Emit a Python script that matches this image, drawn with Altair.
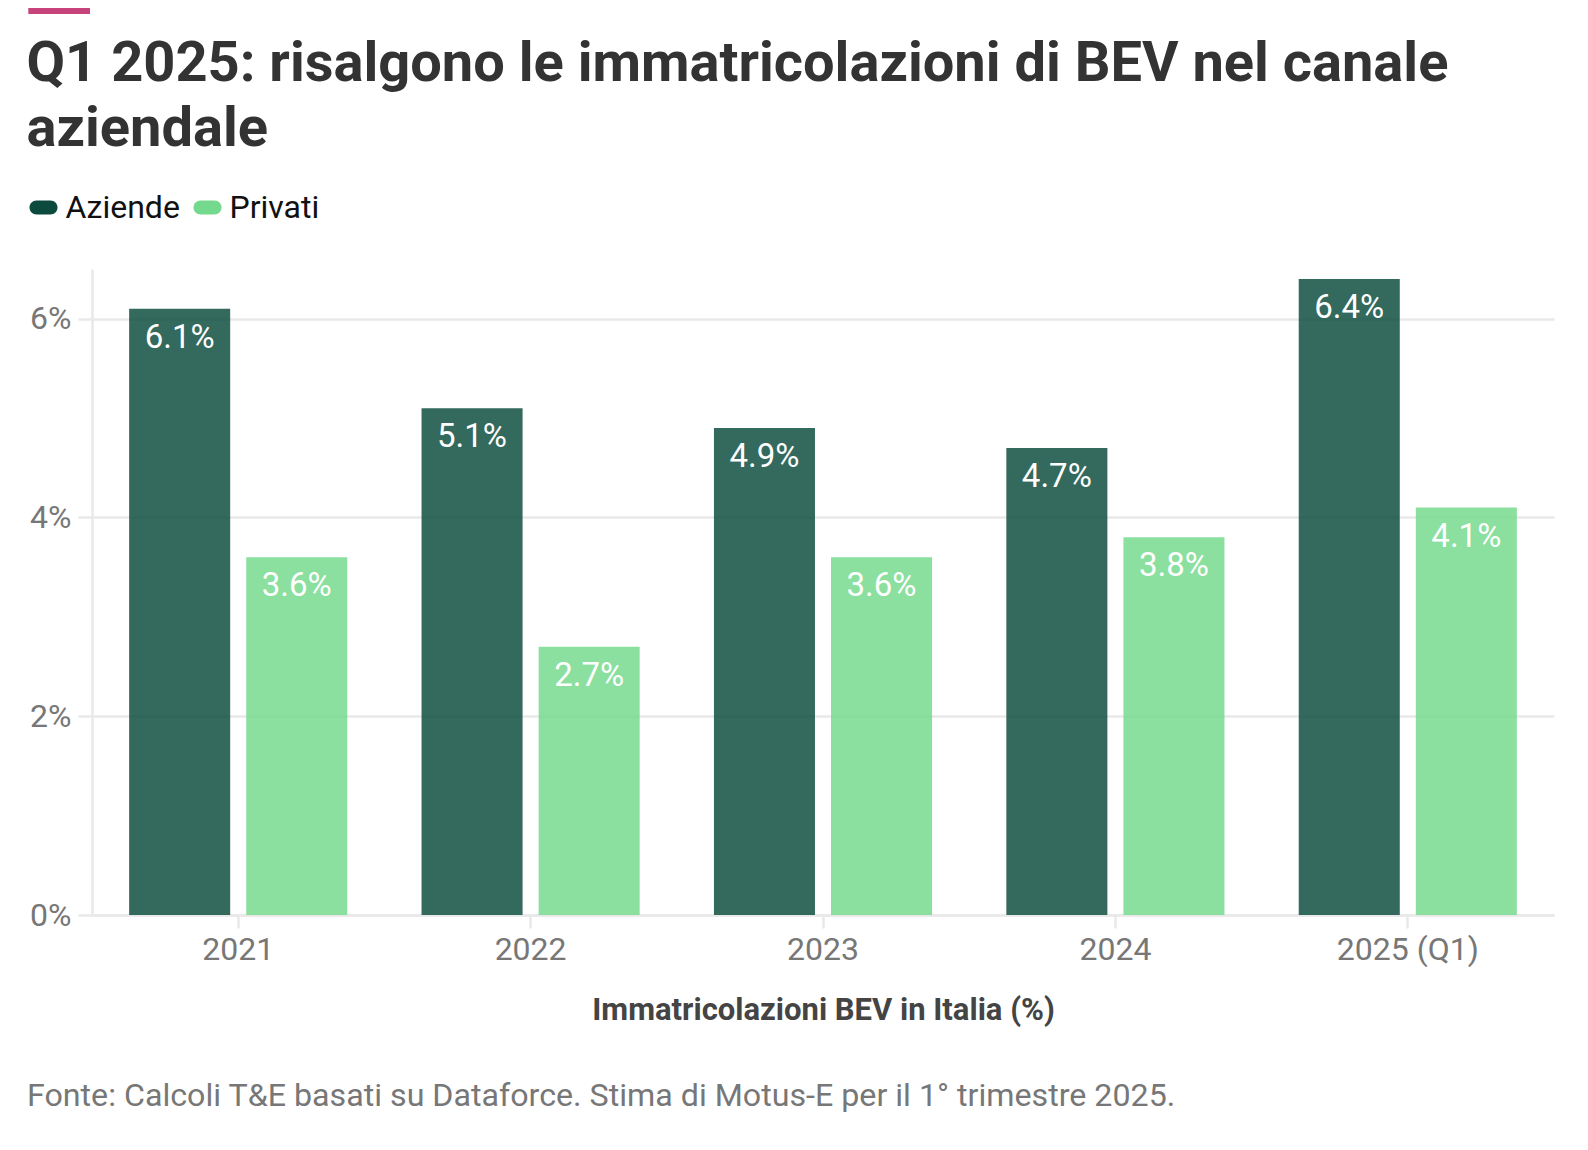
import altair as alt
import pandas as pd

# ---- data ----
years = ["2021", "2022", "2023", "2024", "2025 (Q1)"]
aziende = [6.1, 5.1, 4.9, 4.7, 6.4]
privati = [3.6, 2.7, 3.6, 3.8, 4.1]
series = ["Aziende", "Privati"]
colors = ["#0b4a3c", "#74d98c"]
y_ticks = [0, 0.02, 0.04, 0.06]
title_lines = ["Q1 2025: risalgono le immatricolazioni di BEV nel canale", "aziendale"]
x_title = "Immatricolazioni BEV in Italia (%)"
source = "Fonte: Calcoli T&E basati su Dataforce. Stima di Motus-E per il 1° trimestre 2025."

rows = []
for i, yr in enumerate(years):
    rows.append({"anno": yr, "serie": series[0], "valore": aziende[i] / 100})
    rows.append({"anno": yr, "serie": series[1], "valore": privati[i] / 100})
df = pd.DataFrame(rows)

FONT = "Roboto"
GRID = "#e9e9e9"

pill = "M-0.5,-0.5H0.5A0.5,0.5 0 0 1 0.5,0.5H-0.5A0.5,0.5 0 0 1 -0.5,-0.5Z"

x_enc = alt.X(
    "anno:N",
    sort=years,
    scale=alt.Scale(paddingInner=0.254, paddingOuter=0.127),
    axis=alt.Axis(
        title=x_title,
        labelAngle=0,
        labelFontSize=32,
        labelColor="#777777",
        labelPadding=6,
        labelFont=FONT,
        tickSize=13,
        tickColor=GRID,
        tickWidth=2.5,
        domainColor=GRID,
        domainWidth=2.5,
        grid=False,
        titleFontSize=31,
        titleFont=FONT,
        titleFontWeight="bold",
        titleColor="#444444",
        titlePadding=30,
    ),
)
xoff_enc = alt.XOffset("serie:N", sort=series, scale=alt.Scale(paddingInner=0.137, paddingOuter=0))
y_enc = alt.Y(
    "valore:Q",
    scale=alt.Scale(domain=[0, 0.065], nice=False),
    axis=alt.Axis(
        title=None,
        values=y_ticks,
        format=".0%",
        labelFontSize=32,
        labelColor="#777777",
        labelFont=FONT,
        labelPadding=7,
        tickSize=14,
        tickColor=GRID,
        tickWidth=2.5,
        domainColor=GRID,
        domainWidth=2.5,
        gridColor=GRID,
        gridWidth=2.5,
    ),
)

base = alt.Chart(df)

bars = base.mark_bar(opacity=0.83).encode(
    x=x_enc,
    xOffset=xoff_enc,
    y=y_enc,
    color=alt.Color(
        "serie:N",
        sort=series,
        scale=alt.Scale(domain=series, range=colors),
        title=None,
        legend=alt.Legend(
            orient="none",
            legendX=-64.5,
            legendY=-77.5,
            direction="horizontal",
            symbolType=pill,
            symbolSize=784,
            symbolStrokeWidth=0,
            symbolOpacity=1,
            labelFontSize=32,
            labelFont=FONT,
            labelColor="#111111",
            labelOffset=6,
            columnPadding=11,
            padding=0,
        ),
    ),
)

labels = base.mark_text(baseline="top", dy=13, color="white", fontSize=33, font=FONT).encode(
    x=x_enc,
    xOffset=xoff_enc,
    y=y_enc,
    text=alt.Text("valore:Q", format=".1%"),
)

footer = alt.Chart(pd.DataFrame({"t": [source]})).mark_text(
    align="left", baseline="alphabetic", fontSize=32.2, color="#777777", font=FONT
).encode(x=alt.value(-65), y=alt.value(837), text="t:N")

accent = alt.Chart(pd.DataFrame({"k": [0]})).mark_rect(color="#c8437b").encode(
    x=alt.value(-63.7), x2=alt.value(-2), y=alt.value(-269), y2=alt.value(-255)
)

chart = (
    alt.layer(bars, labels, footer, accent)
    .properties(
        width=1462,
        height=646,
        padding={"left": 84, "top": 261, "right": 26, "bottom": 227},
        autosize=alt.AutoSizeParams(type="none"),
        title=alt.TitleParams(
            text=title_lines,
            anchor="start",
            frame="group",
            dx=-65.5,
            dy=202,
            offset=0,
            fontSize=56,
            fontWeight="bold",
            font=FONT,
            color="#333333",
            lineHeight=65,
            baseline="alphabetic",
        ),
    )
    .configure(font=FONT)
    .configure_view(strokeWidth=0)
)

chart.save("out.html", embed_options={"renderer": "svg", "actions": False})
